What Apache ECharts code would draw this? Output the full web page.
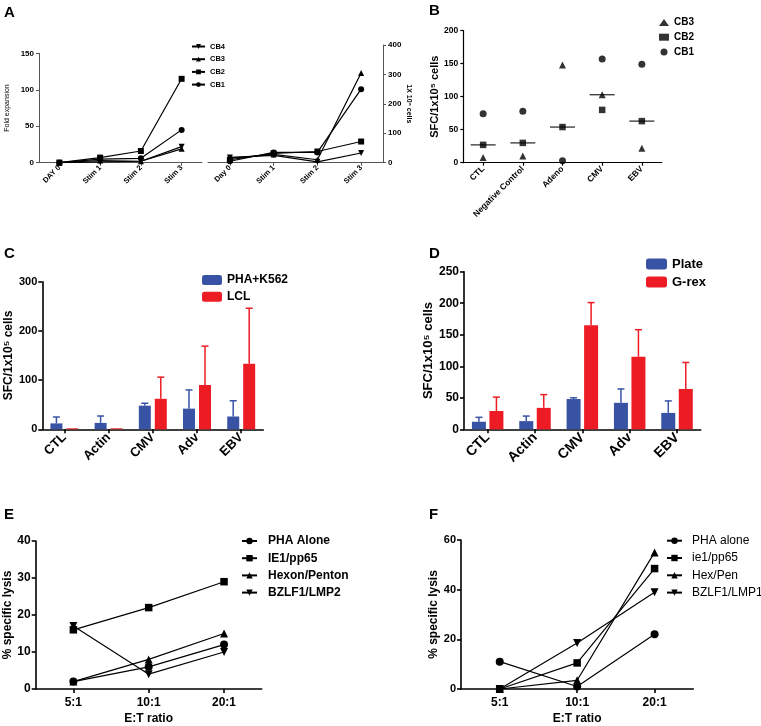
<!DOCTYPE html>
<html><head><meta charset="utf-8">
<script src="https://cdn.jsdelivr.net/npm/echarts@6/dist/echarts.min.js"></script>
<style>html,body{margin:0;padding:0;background:#fff}#c{width:761px;height:726px}</style>
</head><body><div id="c"></div>
<script>
// ---- Panel A ----
const aCatsLeft = ['DAY 0', 'Stim 1', 'Stim 2', 'Stim 3'];
const aCatsRight = ['Day 0', 'Stim 1', 'Stim 2', 'Stim 3'];
const aFoldCB1 = [0, 5, 6, 45];
const aFoldCB2 = [0, 7, 16, 115];
const aFoldCB3 = [0, 3, 2, 19];
const aFoldCB4 = [0, 1, 2, 22];
const aCellsCB1 = [5, 35, 35, 250];
const aCellsCB2 = [10, 32, 38, 72];
const aCellsCB3 = [15, 28, 10, 305];
const aCellsCB4 = [18, 25, 3, 33];
const aLeftTicks = [0, 50, 100, 150];
const aRightTicks = [0, 100, 200, 300, 400];
// ---- Panel B ----
const bCats = ['CTL', 'Negative Control', 'Adeno', 'CMV', 'EBV'];
const bCB1 = [74, 78, 3, 157, 149];
const bCB2 = [27, 30, 54, 80, 63];
const bCB3 = [8, 10, 148, 103, 22];
const bMedian = [27, 30, 54, 103, 63];
// ---- Panel C ----
const cCats = ['CTL', 'Actin', 'CMV', 'Adv', 'EBV'];
const cPHA = [12, 13, 48, 42, 26];
const cPHAErr = [13, 14, 5, 38, 32];
const cLCL = [2, 2, 62, 90, 133];
const cLCLErr = [0, 0, 44, 79, 113];
// ---- Panel D ----
const dCats = ['CTL', 'Actin', 'CMV', 'Adv', 'EBV'];
const dPlate = [12, 13, 48, 42, 26];
const dPlateErr = [7, 8, 2, 22, 19];
const dGrex = [29, 34, 165, 115, 64];
const dGrexErr = [22, 21, 36, 43, 42];
// ---- Panel E ----
const eCats = ['5:1', '10:1', '20:1'];
const ePHA = [2, 6, 12];
const eIE1 = [16, 22, 29];
const eHex = [2, 8, 15];
const eBZ = [17, 4, 10];
// ---- Panel F ----
const fCats = ['5:1', '10:1', '20:1'];
const fPHA = [11, 1, 22];
const fIE1 = [0, 10.5, 48.5];
const fHex = [0, 3.5, 55];
const fBZ = [0, 18.5, 39];

const FONT = 'Liberation Sans, Arial, sans-serif';
const BLUE = '#3953a4', RED = '#ed1c24';

function xCat(gi, data, o) {
  return {
    type: 'category', gridIndex: gi, data: data, boundaryGap: true,
    axisLine: { show: true, lineStyle: { color: o.axisColor || '#000', width: o.lw } },
    axisTick: { show: true, alignWithLabel: true, length: o.tick || 4, lineStyle: { color: o.axisColor || '#000', width: o.lw } },
    axisLabel: { interval: 0, rotate: o.rotate || 0, fontSize: o.fs, fontWeight: 'bold', color: '#000', fontFamily: FONT, margin: o.margin || 6 },
    splitLine: { show: false },
    name: o.name || '', nameLocation: 'middle', nameGap: o.nameGap || 20,
    nameTextStyle: { fontSize: o.nfs || 12, fontWeight: 'bold', color: '#000', fontFamily: FONT }
  };
}
function yVal(gi, max, interval, o) {
  return {
    type: 'value', gridIndex: gi, min: 0, max: max, interval: interval, position: o.position || 'left',
    axisLine: { show: true, lineStyle: { color: o.axisColor || '#000', width: o.lw } },
    axisTick: { show: true, length: o.tick || 4, lineStyle: { color: o.axisColor || '#000', width: o.lw } },
    axisLabel: { fontSize: o.fs, fontWeight: 'bold', color: '#000', fontFamily: FONT, margin: o.margin || 5 },
    splitLine: { show: false },
    name: o.name, nameLocation: 'middle', nameGap: o.nameGap, nameRotate: o.nameRotate || 90,
    nameTextStyle: { fontSize: o.nfs, fontWeight: o.nfw || 'bold', color: '#000', fontFamily: FONT }
  };
}
function lineS(name, xi, yi, data, symbol, size, rot) {
  return {
    type: 'line', name: name, xAxisIndex: xi, yAxisIndex: yi, data: data,
    symbol: symbol, symbolSize: size, symbolRotate: rot || 0, showSymbol: true,
    lineStyle: { color: '#000', width: 1.2 }, itemStyle: { color: '#000' },
    emphasis: { disabled: true }, animation: false
  };
}
function scatS(name, xi, yi, data, symbol, size) {
  return {
    type: 'scatter', name: name, xAxisIndex: xi, yAxisIndex: yi, data: data,
    symbol: symbol, symbolSize: size, itemStyle: { color: '#000' }, animation: false
  };
}
function barS(name, xi, yi, data, color, w, gap) {
  return {
    type: 'bar', name: name, xAxisIndex: xi, yAxisIndex: yi, data: data,
    barWidth: w, barGap: gap, itemStyle: { color: color }, animation: false
  };
}
function errS(xi, yi, vals, errs, color, offset) {
  return {
    type: 'custom', xAxisIndex: xi, yAxisIndex: yi, z: 3, silent: true, animation: false,
    data: vals.map((v, i) => [i, v, v + errs[i]]),
    encode: { x: 0, y: [1, 2] },
    renderItem: function (params, api) {
      if (api.value(2) <= api.value(1)) return null;
      const p0 = api.coord([api.value(0), api.value(1)]);
      const p1 = api.coord([api.value(0), api.value(2)]);
      const x = p0[0] + offset, cap = 3.5;
      return {
        type: 'group', children: [
          { type: 'line', shape: { x1: x, y1: p0[1], x2: x, y2: p1[1] }, style: { stroke: color, lineWidth: 1.5 } },
          { type: 'line', shape: { x1: x - cap, y1: p1[1], x2: x + cap, y2: p1[1] }, style: { stroke: color, lineWidth: 1.5 } }
        ]
      };
    }
  };
}
const strip = n => n.replace(/^.*:/, '');

const option = {
  backgroundColor: '#fff',
  animation: false,
  grid: [
    { left: 39, top: 53.3, width: 163, height: 109.4 },
    { left: 208, top: 45, width: 175, height: 117.7 },
    { left: 463.3, top: 30.7, width: 198.4, height: 132 },
    { left: 42.3, top: 281.7, width: 221, height: 147.6 },
    { left: 464, top: 271.7, width: 236.7, height: 157.6 },
    { left: 35.7, top: 541, width: 226, height: 151 },
    { left: 461, top: 540, width: 232.3, height: 152 }
  ],
  xAxis: [
    xCat(0, aCatsLeft, { lw: 1, fs: 7.5, rotate: 45, axisColor: '#555', tick: 3, margin: 4 }),
    xCat(1, aCatsRight, { lw: 1, fs: 7.5, rotate: 45, axisColor: '#555', tick: 3, margin: 4 }),
    xCat(2, bCats, { lw: 1.2, fs: 8.5, rotate: 45, tick: 3, margin: 5 }),
    xCat(3, cCats, { lw: 1.6, fs: 13, rotate: 45, margin: 6 }),
    xCat(4, dCats, { lw: 1.6, fs: 14, rotate: 45, margin: 6 }),
    xCat(5, eCats, { lw: 1.6, fs: 12, margin: 8, name: 'E:T ratio', nameGap: 24, nfs: 12 }),
    xCat(6, fCats, { lw: 1.6, fs: 12, margin: 8, name: 'E:T ratio', nameGap: 24, nfs: 12 })
  ],
  yAxis: [
    yVal(0, 150, 50, { lw: 1, fs: 8, axisColor: '#555', tick: 3, name: 'Fold expansion', nameGap: 28, nfs: 7, nfw: 'normal' }),
    yVal(1, 400, 100, { lw: 1, fs: 8, axisColor: '#555', tick: 3, position: 'right', name: '1X 10\u2076 cells', nameGap: 11, nfs: 7, nameRotate: -90 }),
    yVal(2, 200, 50, { lw: 1.2, fs: 8.5, tick: 3, name: 'SFC/1x10\u2075 cells', nameGap: 20, nfs: 11 }),
    yVal(3, 300, 100, { lw: 1.6, fs: 11, name: 'SFC/1x10\u2075 cells', nameGap: 27, nfs: 12 }),
    yVal(4, 250, 50, { lw: 1.6, fs: 12, name: 'SFC/1x10\u2075 cells', nameGap: 29, nfs: 13 }),
    yVal(5, 40, 10, { lw: 1.6, fs: 12, name: '% specific lysis', nameGap: 22, nfs: 12 }),
    yVal(6, 60, 20, { lw: 1.6, fs: 11, name: '% specific lysis', nameGap: 19, nfs: 12 })
  ],
  legend: [
    { data: ['CB4', 'CB3', 'CB2', 'CB1'], orient: 'vertical', left: 191, top: 42.5, padding: 0, itemWidth: 13, itemHeight: 6, itemGap: 4.7, selectedMode: false,
      textStyle: { fontSize: 7.5, fontWeight: 'bold', color: '#000', fontFamily: FONT } },
    { data: ['B:CB3', 'B:CB2', 'B:CB1'], orient: 'vertical', left: 659, top: 17.5, padding: 0, itemWidth: 10, itemHeight: 7, itemGap: 4.7, selectedMode: false, formatter: strip,
      textStyle: { fontSize: 10, fontWeight: 'bold', color: '#000', fontFamily: FONT } },
    { data: ['PHA+K562', 'LCL'], orient: 'vertical', left: 202, top: 274, padding: 0, itemWidth: 20, itemHeight: 10, itemGap: 4.7, selectedMode: false, icon: 'roundRect',
      textStyle: { fontSize: 12, fontWeight: 'bold', color: '#000', fontFamily: FONT } },
    { data: ['Plate', 'G-rex'], orient: 'vertical', left: 646, top: 257.5, padding: 0, itemWidth: 21, itemHeight: 11, itemGap: 5, selectedMode: false, icon: 'roundRect',
      textStyle: { fontSize: 13, fontWeight: 'bold', color: '#000', fontFamily: FONT } },
    { data: ['E:PHA Alone', 'E:IE1/pp65', 'E:Hexon/Penton', 'E:BZLF1/LMP2'], orient: 'vertical', left: 241, top: 535, padding: 0, itemWidth: 15, itemHeight: 8, itemGap: 5.2, selectedMode: false, formatter: strip,
      textStyle: { fontSize: 12, fontWeight: 'bold', color: '#000', fontFamily: FONT, padding: [0, 0, 0, 6] } },
    { data: ['F:PHA alone', 'F:ie1/pp65', 'F:Hex/Pen', 'F:BZLF1/LMP1'], orient: 'vertical', left: 666, top: 534.7, padding: 0, itemWidth: 15, itemHeight: 8, itemGap: 5.3, selectedMode: false, formatter: strip,
      textStyle: { fontSize: 12, fontWeight: 'normal', color: '#000', fontFamily: FONT, padding: [0, 0, 0, 5] } }
  ],
  graphic: [
    { type: 'text', left: 4, top: 5, style: { text: 'A', font: 'bold 15px ' + FONT, fill: '#000' } },
    { type: 'text', left: 429, top: 3, style: { text: 'B', font: 'bold 15px ' + FONT, fill: '#000' } },
    { type: 'text', left: 4, top: 246, style: { text: 'C', font: 'bold 15px ' + FONT, fill: '#000' } },
    { type: 'text', left: 429, top: 246, style: { text: 'D', font: 'bold 15px ' + FONT, fill: '#000' } },
    { type: 'text', left: 4, top: 507, style: { text: 'E', font: 'bold 15px ' + FONT, fill: '#000' } },
    { type: 'text', left: 429, top: 507, style: { text: 'F', font: 'bold 15px ' + FONT, fill: '#000' } }
  ],
  series: [
    // A left
    lineS('CB4', 0, 0, aFoldCB4, 'triangle', 6, 180),
    lineS('CB3', 0, 0, aFoldCB3, 'triangle', 6),
    lineS('CB2', 0, 0, aFoldCB2, 'rect', 6),
    lineS('CB1', 0, 0, aFoldCB1, 'circle', 6),
    // A right
    lineS('A2:CB4', 1, 1, aCellsCB4, 'triangle', 6, 180),
    lineS('A2:CB3', 1, 1, aCellsCB3, 'triangle', 6),
    lineS('A2:CB2', 1, 1, aCellsCB2, 'rect', 6),
    lineS('A2:CB1', 1, 1, aCellsCB1, 'circle', 6),
    // B
    scatS('B:CB3', 2, 2, bCB3, 'triangle', 7),
    scatS('B:CB2', 2, 2, bCB2, 'rect', 6.5),
    scatS('B:CB1', 2, 2, bCB1, 'circle', 7),
    scatS('B:median', 2, 2, bMedian, 'rect', [25, 1.3]),
    // C
    barS('PHA+K562', 3, 3, cPHA, BLUE, 12, '33%'),
    barS('LCL', 3, 3, cLCL, RED, 12, '33%'),
    errS(3, 3, cPHA, cPHAErr, BLUE, -8),
    errS(3, 3, cLCL, cLCLErr, RED, 8),
    // D
    barS('Plate', 4, 4, dPlate, BLUE, 14, '25%'),
    barS('G-rex', 4, 4, dGrex, RED, 14, '25%'),
    errS(4, 4, dPlate, dPlateErr, BLUE, -8.75),
    errS(4, 4, dGrex, dGrexErr, RED, 8.75),
    // E
    lineS('E:PHA Alone', 5, 5, ePHA, 'circle', 8),
    lineS('E:IE1/pp65', 5, 5, eIE1, 'rect', 7.5),
    lineS('E:Hexon/Penton', 5, 5, eHex, 'triangle', 8),
    lineS('E:BZLF1/LMP2', 5, 5, eBZ, 'triangle', 8, 180),
    // F
    lineS('F:PHA alone', 6, 6, fPHA, 'circle', 8),
    lineS('F:ie1/pp65', 6, 6, fIE1, 'rect', 7.5),
    lineS('F:Hex/Pen', 6, 6, fHex, 'triangle', 8),
    lineS('F:BZLF1/LMP1', 6, 6, fBZ, 'triangle', 8, 180)
  ]
};
const chart = echarts.init(document.getElementById('c'));
chart.setOption(option);
</script>
</body></html>
